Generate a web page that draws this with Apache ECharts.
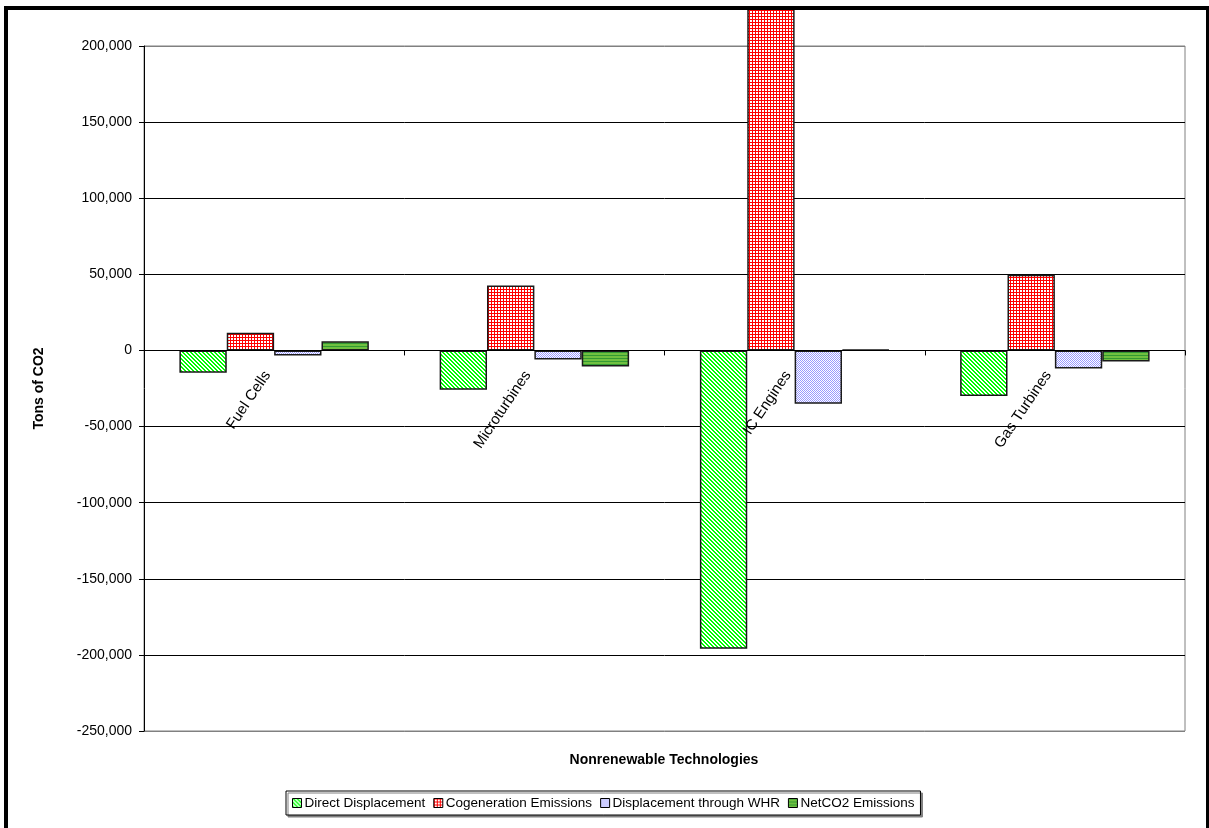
<!DOCTYPE html>
<html>
<head>
<meta charset="utf-8">
<script src="https://cdn.jsdelivr.net/npm/echarts@6/dist/echarts.min.js"></script>
<style>
  html, body { margin: 0; padding: 0; background: #fff; overflow: hidden; }
  .frame {
    position: absolute;
    left: 4px;
    top: 6px;
    width: 1198px;
    height: 818px;
    border: 4px solid #000;
    background: #fff;
  }
  #chart { width: 1198px; height: 818px; }
</style>
</head>
<body>
<div class="frame">
  <div id="chart"></div>
</div>
<script>
const categories = ['Fuel Cells', 'Microturbines', 'IC Engines', 'Gas Turbines']
const seriesNames = ['Direct Displacement', 'Cogeneration Emissions', 'Displacement through WHR', 'NetCO2 Emissions']
const directDisplacement = [-14600, -25800, -195900, -30000]
const cogenerationEmissions = [11700, 42600, 231000, 49700]
const displacementWHR = [-3400, -6000, -35100, -11800]
const netCO2 = [6000, -10500, 500, -7200]

const font = "'Liberation Sans', Arial, sans-serif"

// small canvas tiles for the excel-like pattern fills
const makeTile = (size, paint) => {
  const c = document.createElement('canvas')
  c.width = size
  c.height = size
  const ctx = c.getContext('2d')
  for (let y = 0; y < size; y++) {
    for (let x = 0; x < size; x++) {
      ctx.fillStyle = paint(x, y)
      ctx.fillRect(x, y, 1, 1)
    }
  }
  return { image: c, repeat: 'repeat' }
}

const greenHatch = makeTile(4, (x, y) => ((x - y + 8) % 4 < 2 ? '#00ff00' : '#ffffff'))
const redGrid = makeTile(3, (x, y) => (x % 3 === 0 || y % 3 === 0 ? '#ff0000' : '#ffffff'))
const blueDots = makeTile(2, (x, y) => ((x + y) % 2 === 0 ? '#9999ff' : '#ffffff'))
const greenStripes = makeTile(3, (x, y) => (y % 3 === 0 ? '#339933' : '#70c040'))

// plot box (inside the frame)
const gridTop = 36
const gridBottom = 97
const chartHeight = 818
const yMin = -250000
const yMax = 200000
// move the category axis up to the zero line, labels included
const zeroOffset = -((chartHeight - gridBottom - gridTop) * (0 - yMin)) / (yMax - yMin)

const myChart = echarts.init(document.getElementById('chart'))

const barBase = {
  type: 'bar',
  barWidth: '18.2%',
  barGap: '0%',
  itemStyle: { borderColor: '#1a1a1a', borderWidth: 1.5 }
}

const option = {
  animation: false,
  textStyle: { fontFamily: font },
  grid: {
    left: 136,
    top: gridTop,
    right: 21,
    bottom: gridBottom,
    show: true,
    borderColor: '#808080',
    borderWidth: 1
  },
  legend: {
    left: 278,
    top: 781,
    icon: 'rect',
    itemWidth: 9,
    itemHeight: 9,
    itemGap: 8,
    padding: [5, 6],
    borderColor: '#000',
    borderWidth: 1,
    backgroundColor: '#fff',
    shadowColor: '#808080',
    shadowOffsetX: 2,
    shadowOffsetY: 2,
    textStyle: { color: '#000', fontSize: 13.5, fontFamily: font, padding: [0, 0, 0, -2] },
    itemStyle: { borderColor: '#000', borderWidth: 1 },
    data: seriesNames
  },
  graphic: [
    {
      type: 'text',
      x: 656,
      y: 750,
      style: {
        text: 'Nonrenewable Technologies',
        fill: '#000',
        font: 'bold 14px ' + font,
        textAlign: 'center',
        textVerticalAlign: 'middle'
      }
    }
  ],
  xAxis: {
    type: 'category',
    data: categories,
    offset: zeroOffset,
    z: 10, // labels sit over the bars, as in the original
    axisLine: { onZero: false, lineStyle: { color: '#000', width: 1 } },
    axisTick: { show: true, alignWithLabel: false, length: 5, lineStyle: { color: '#000' } },
    axisLabel: {
      interval: 0,
      rotate: 56,
      margin: 12,
      padding: [0, 12, 0, 0],
      color: '#000',
      fontSize: 15,
      fontFamily: font
    },
    splitLine: { show: false }
  },
  yAxis: {
    type: 'value',
    min: yMin,
    max: yMax,
    interval: 50000,
    name: 'Tons of CO2',
    nameLocation: 'middle',
    nameGap: 98,
    nameTextStyle: { color: '#000', fontWeight: 'bold', fontSize: 14, fontFamily: font },
    axisLine: { show: true, lineStyle: { color: '#000', width: 1 } },
    axisTick: { show: true, length: 5, lineStyle: { color: '#000' } },
    axisLabel: {
      color: '#000',
      fontSize: 14,
      margin: 12,
      fontFamily: font,
      formatter: (v) => v.toLocaleString('en-US')
    },
    splitLine: {
      lineStyle: {
        // 上下两条用灰色，跟绘图区边框一致
        color: ['#808080', '#000', '#000', '#000', '#000', '#000', '#000', '#000', '#000', '#808080'],
        width: 1
      }
    }
  },
  series: [
    { ...barBase, name: seriesNames[0], data: directDisplacement, itemStyle: { ...barBase.itemStyle, color: greenHatch } },
    { ...barBase, name: seriesNames[1], data: cogenerationEmissions, clip: false, itemStyle: { ...barBase.itemStyle, color: redGrid } },
    { ...barBase, name: seriesNames[2], data: displacementWHR, itemStyle: { ...barBase.itemStyle, color: blueDots } },
    { ...barBase, name: seriesNames[3], data: netCO2, itemStyle: { ...barBase.itemStyle, color: greenStripes } }
  ]
}
myChart.setOption(option)
</script>
</body>
</html>
